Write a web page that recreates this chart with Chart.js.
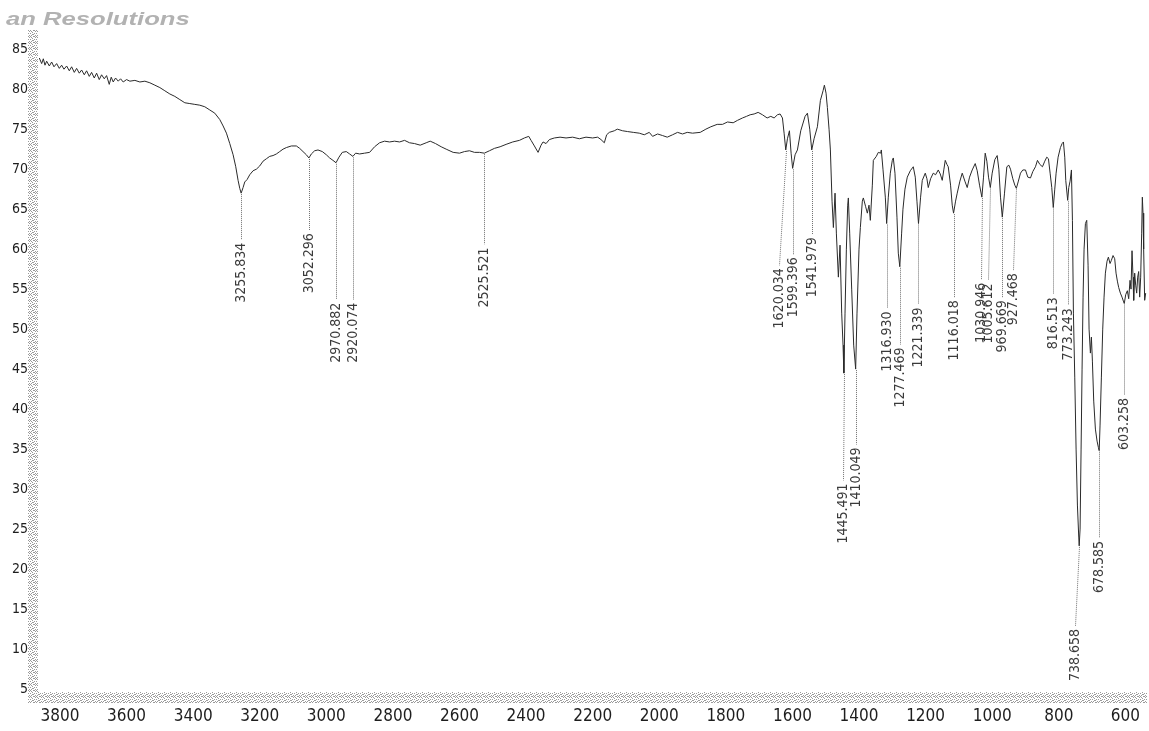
<!DOCTYPE html>
<html>
<head>
<meta charset="utf-8">
<title>IR spectrum</title>
<script src="https://cdn.jsdelivr.net/npm/chart.js@4.4.1/dist/chart.umd.min.js"></script>
<style>
  html, body { margin: 0; padding: 0; background: #ffffff; }
  #wrap { width: 1149px; height: 731px; position: relative; }
  canvas { display: block; }
</style>
</head>
<body>
<div id="wrap"><canvas id="ir" width="1149" height="731"></canvas></div>
<script>
// Transmittance spectrum: [wavenumber (cm-1), %T]
const spectrum = [
  [3862,83.9],[3855,83.2],[3850,83.8],[3845,83.0],[3840,83.5],[3832,82.9],[3825,83.4],[3818,82.8],
  [3810,83.2],[3802,82.6],[3795,83.0],[3788,82.5],[3780,82.9],[3772,82.3],[3765,82.8],[3757,82.1],
  [3750,82.6],[3742,82.0],[3735,82.4],[3727,81.8],[3720,82.3],[3712,81.6],[3705,82.1],[3697,81.4],
  [3690,82.0],[3682,81.2],[3675,81.8],[3667,81.3],[3660,81.7],[3652,80.6],[3646,81.5],[3640,80.9],
  [3633,81.4],[3625,81.0],[3618,81.3],[3610,80.9],[3600,81.2],[3590,81.0],[3575,81.1],[3560,80.9],
  [3545,81.0],[3530,80.8],[3515,80.5],[3500,80.2],[3485,79.8],[3470,79.4],[3455,79.1],[3440,78.7],
  [3425,78.3],[3410,78.2],[3395,78.1],[3380,78.0],[3365,77.8],[3350,77.4],[3335,77.0],[3320,76.2],
  [3310,75.4],[3300,74.5],[3290,73.2],[3280,71.8],[3272,70.3],[3265,68.6],[3260,67.6],[3255.834,67.0],
  [3250,67.7],[3245,68.4],[3238,68.7],[3230,69.3],[3220,69.8],[3210,70.0],[3200,70.4],[3190,71.0],
  [3180,71.3],[3170,71.6],[3160,71.7],[3150,71.9],[3140,72.2],[3130,72.5],[3120,72.7],[3105,72.9],
  [3090,72.9],[3080,72.6],[3070,72.2],[3060,71.8],[3052.296,71.4],[3045,71.9],[3035,72.3],[3025,72.4],
  [3012,72.2],[3000,71.8],[2990,71.4],[2980,71.1],[2970.882,70.8],[2962,71.5],[2952,72.1],[2940,72.2],
  [2930,71.9],[2920.074,71.6],[2912,72.0],[2900,71.9],[2885,72.0],[2870,72.1],[2855,72.8],[2840,73.3],
  [2825,73.5],[2810,73.4],[2795,73.5],[2780,73.4],[2765,73.6],[2750,73.3],[2735,73.2],[2718,73.0],
  [2700,73.3],[2688,73.5],[2672,73.2],[2655,72.8],[2640,72.5],[2619,72.1],[2600,72.0],[2585,72.2],
  [2570,72.3],[2555,72.1],[2540,72.1],[2525.521,72.0],[2510,72.3],[2495,72.6],[2478,72.8],[2460,73.1],
  [2440,73.4],[2420,73.6],[2405,73.9],[2392,74.1],[2385,73.6],[2375,72.9],[2364,72.1],[2355,73.0],
  [2349,73.4],[2340,73.2],[2330,73.7],[2315,73.9],[2298,74.0],[2280,73.9],[2260,74.0],[2240,73.8],
  [2220,74.0],[2200,73.9],[2185,74.0],[2175,73.7],[2165,73.3],[2158,74.3],[2150,74.6],[2135,74.8],
  [2126,75.0],[2110,74.8],[2095,74.7],[2078,74.6],[2060,74.5],[2045,74.3],[2030,74.6],[2020,74.1],
  [2005,74.4],[1990,74.2],[1976,74.0],[1960,74.3],[1945,74.6],[1930,74.4],[1916,74.6],[1900,74.5],
  [1877,74.6],[1860,75.0],[1845,75.3],[1826,75.6],[1810,75.6],[1795,75.9],[1778,75.8],[1765,76.1],
  [1750,76.4],[1738,76.6],[1727,76.8],[1715,76.9],[1703,77.1],[1690,76.8],[1676,76.4],[1665,76.6],
  [1655,76.4],[1645,76.8],[1637,76.9],[1630,76.4],[1625,74.5],[1620.034,72.4],[1615,73.8],[1609,74.8],
  [1604,72.0],[1599.396,70.1],[1592,71.8],[1585,72.4],[1575,74.8],[1562,76.6],[1555,77.0],[1548,75.0],
  [1541.979,72.4],[1535,73.8],[1525,75.3],[1516,78.6],[1508,79.8],[1504,80.5],[1499,79.5],[1495,77.7],
  [1490,75.0],[1486,72.4],[1481,66.0],[1477,62.7],[1472,67.0],[1468,62.0],[1462,56.5],[1457,60.5],
  [1452,52.0],[1448,48.0],[1445.491,44.5],[1442,52.0],[1438,60.0],[1434,65.5],[1432,66.4],[1428,62.0],
  [1422,55.0],[1416,48.0],[1410.049,45.0],[1406,52.0],[1400,60.0],[1396,62.7],[1390,66.0],[1387,66.4],
  [1380,65.3],[1375,64.5],[1370,65.5],[1366,63.6],[1360,68.0],[1357,71.1],[1348,71.6],[1342,72.1],
  [1335,72.0],[1333,72.4],[1328,70.0],[1321,66.5],[1316.930,63.2],[1312,66.5],[1306,69.5],[1300,71.1],
  [1297,71.4],[1292,69.5],[1286,64.0],[1282,59.5],[1277.469,57.8],[1272,62.0],[1268,65.0],[1262,67.5],
  [1255,69.0],[1246,69.8],[1237,70.3],[1231,69.0],[1226,66.0],[1221.339,63.2],[1215,66.5],[1210,68.6],
  [1201,69.5],[1196,68.8],[1192,67.7],[1185,68.8],[1177,69.5],[1170,69.3],[1162,69.9],[1156,69.4],
  [1150,68.6],[1145,70.0],[1141,71.1],[1136,70.6],[1132,70.3],[1125,68.0],[1120,65.5],[1116.018,64.5],
  [1110,66.0],[1105,67.0],[1097,68.5],[1090,69.5],[1082,68.5],[1075,67.7],[1068,69.0],[1060,69.9],
  [1051,70.7],[1045,69.8],[1038,68.0],[1030.946,66.5],[1026,69.0],[1021,72.0],[1016,71.0],[1011,69.0],
  [1005.612,67.7],[1000,69.5],[992,71.2],[985,71.7],[980,70.0],[975,66.5],[969.669,64.0],[963,67.0],
  [956,70.3],[950,70.5],[945,70.0],[938,68.8],[932,68.0],[927.468,67.6],[922,68.4],[915,69.5],
  [908,69.9],[900,69.9],[893,69.0],[885,68.9],[878,69.7],[870,70.3],[864,71.1],[857,70.6],
  [849,70.3],[842,71.0],[836,71.5],[831,71.3],[826,69.5],[821,67.7],[816.513,65.2],[812,67.5],
  [808,69.5],[802,71.5],[795,72.7],[790,73.2],[786,73.4],[782,71.5],[779,68.6],[773.243,66.1],
  [770,67.7],[766,68.5],[762,69.9],[759,63.6],[756,52.0],[752,44.0],[748,35.0],[744,28.0],
  [740,24.0],[738.658,22.9],[736,25.0],[733,35.0],[730,45.0],[727,54.0],[724,60.0],[720,63.2],
  [716,63.6],[712,58.0],[709,50.0],[705,47.0],[702,49.0],[699,46.0],[695,41.0],[690,37.5],
  [685,36.0],[681,35.2],[678.585,34.8],[676,38.0],[672,44.0],[668,50.0],[664,54.0],[660,57.0],
  [655,58.5],[651,59.0],[646,58.2],[642,58.6],[637,59.2],[632,58.8],[628,57.0],[624,56.0],
  [620,55.2],[615,54.5],[610,54.0],[606,53.5],[603.258,53.2],[599,54.3],[594,54.8],[590,53.8],
  [586,56.1],[583,55.0],[580,59.8],[577,56.5],[575,53.6],[572,57.0],[569,55.5],[566,54.5],
  [563,56.5],[560,57.2],[557,54.0],[554,56.5],[551,62.0],[549,66.5],[547,64.5],[545,60.0],
  [542,53.6],[539,54.5]
];

// Picked peaks (cm-1)
const peakWavenumbers = [
  3255.834, 3052.296, 2970.882, 2920.074, 2525.521, 1620.034, 1599.396, 1541.979,
  1445.491, 1410.049, 1316.930, 1277.469, 1221.339, 1116.018, 1030.946, 1005.612,
  969.669, 927.468, 816.513, 773.243, 738.658, 678.585, 603.258
];

// Axis tick values
const xTickValues = [600, 800, 1000, 1200, 1400, 1600, 1800, 2000, 2200, 2400, 2600, 2800, 3000, 3200, 3400, 3600, 3800];
const yTickValues = [5, 10, 15, 20, 25, 30, 35, 40, 45, 50, 55, 60, 65, 70, 75, 80, 85];

// Label placement: %T level where each rotated label begins, and sideways nudge in px
const labelTopLevel = [60.8, 62.0, 53.3, 53.3, 60.2, 57.6, 59.0, 61.5, 30.7, 35.2, 52.2, 47.7,
                       52.7, 53.6, 55.8, 55.7, 53.6, 57.0, 54.0, 52.6, 12.5, 23.5, 41.4];
const labelNudge = [0, 0, 0, 0, 0, -7, 0, 0, -1, 0, 0, 0, 0, 0, -1, -2, 0, -3, 0, 0, -4, 0, 0];

const NARROW = '"Liberation Sans Narrow", "DejaVu Sans Condensed", "Liberation Sans", sans-serif';

// Stippled fill used for the axis bands
function stipple(ctx) {
  const dots = [[0,0],[3,0],[1,1],[5,1],[2,2],[4,3],[0,3],[3,4],[1,5],[5,5],[2,4],[4,0]];
  const c = document.createElement('canvas');
  c.width = 6; c.height = 6;
  const g = c.getContext('2d');
  g.fillStyle = '#ffffff';
  g.fillRect(0, 0, 6, 6);
  g.fillStyle = '#9a9a9a';
  dots.forEach(d => g.fillRect(d[0], d[1], 1, 1));
  return ctx.createPattern(c, 'repeat');
}

// Stippled axis bands and the header text
const frame = {
  id: 'frame',
  beforeDatasetsDraw(chart) {
    const { ctx, chartArea } = chart;
    ctx.save();
    ctx.fillStyle = stipple(ctx);
    ctx.fillRect(28, chartArea.top, chartArea.left - 28, chartArea.bottom - chartArea.top);
    ctx.fillRect(28, chartArea.bottom - 5, chartArea.right - 28, 11);
    ctx.restore();
  },
  afterDraw(chart) {
    const { ctx } = chart;
    ctx.save();
    ctx.font = 'italic bold 19px "Liberation Sans", Arial, sans-serif';
    ctx.fillStyle = '#b2b2b2';
    const sx = 1.35;
    const lead = ctx.measureText('an ').width * sx;
    ctx.translate(43 - lead, 25);
    ctx.scale(sx, 1);
    ctx.fillText('an Resolutions', 0, 0);
    ctx.restore();
  }
};

// Leader lines and rotated wavenumber labels for the picked peaks
const peakLabels = {
  id: 'peakLabels',
  afterDatasetsDraw(chart) {
    const { ctx } = chart;
    const xs = chart.scales.x, ys = chart.scales.y;
    ctx.save();
    peakWavenumbers.forEach((wn, i) => {
      const pt = spectrum.find(p => p[0] === wn);
      const px = xs.getPixelForValue(wn);
      const py = ys.getPixelForValue(pt[1]);
      const lx = px + labelNudge[i];
      const ly = ys.getPixelForValue(labelTopLevel[i]);
      ctx.setLineDash([1, 1]);
      ctx.strokeStyle = '#6f6f6f';
      ctx.lineWidth = 1;
      ctx.beginPath();
      ctx.moveTo(Math.round(px) + 0.5, py + 1);
      ctx.lineTo(Math.round(lx) + 0.5, ly - 3);
      ctx.stroke();
      ctx.setLineDash([]);
      ctx.save();
      ctx.translate(Math.round(lx) + 0.5, ly);
      ctx.rotate(-Math.PI / 2);
      ctx.font = '14px ' + NARROW;
      ctx.fillStyle = '#3a3a3a';
      ctx.textAlign = 'right';
      ctx.textBaseline = 'middle';
      ctx.fillText(wn.toFixed(3), 0, 0);
      ctx.restore();
    });
    ctx.restore();
  }
};

new Chart(document.getElementById('ir'), {
  type: 'line',
  data: {
    datasets: [{
      data: spectrum.map(p => ({ x: p[0], y: p[1] })),
      borderColor: '#2a2a2a',
      borderWidth: 1,
      pointRadius: 0,
      tension: 0,
      fill: false
    }]
  },
  plugins: [frame, peakLabels],
  options: {
    responsive: false,
    animation: false,
    devicePixelRatio: 1,
    layout: { padding: { top: 30, right: 2, left: 0, bottom: 0 } },
    plugins: { legend: { display: false }, tooltip: { enabled: false }, title: { display: false } },
    scales: {
      x: {
        type: 'linear',
        reverse: true,
        min: 535,
        max: 3866,
        position: 'bottom',
        afterFit(scale) { scale.height = 34; },
        afterBuildTicks(scale) { scale.ticks = xTickValues.map(v => ({ value: v })); },
        grid: { display: true, drawOnChartArea: false, drawTicks: false },
        border: { display: false },
        ticks: {
          padding: 9,
          maxRotation: 0,
          autoSkip: false,
          color: '#1e1e1e',
          font: { family: NARROW, size: 17 },
          callback: v => String(v)
        }
      },
      y: {
        min: 4,
        max: 87.4,
        position: 'left',
        afterFit(scale) { scale.width = 38; },
        afterBuildTicks(scale) { scale.ticks = yTickValues.map(v => ({ value: v })); },
        grid: { display: true, drawOnChartArea: false, drawTicks: true, tickLength: 7, color: '#111', tickWidth: 1 },
        border: { display: false },
        ticks: {
          padding: 3,
          autoSkip: false,
          color: '#1e1e1e',
          font: { family: NARROW, size: 14 },
          callback: v => String(v)
        }
      }
    }
  }
});
</script>
</body>
</html>
